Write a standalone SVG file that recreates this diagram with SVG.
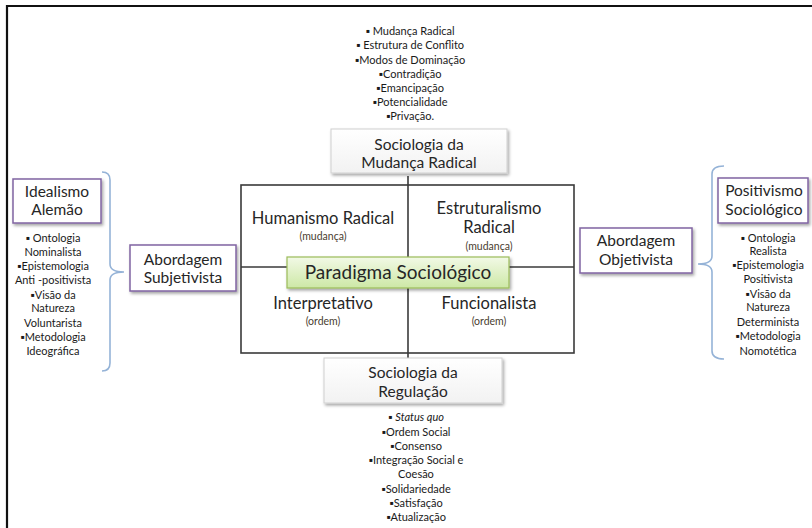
<svg xmlns="http://www.w3.org/2000/svg" width="812" height="528" viewBox="0 0 812 528">
  <style>
    text { font-family: Lato, "Liberation Sans", "DejaVu Sans", sans-serif; fill: #262626; text-anchor: middle; }
    .list { font-size: 11px; fill: #1a1a1a; }
    .head { font-size: 15.5px; }
    .quad { font-size: 16.5px; }
    .sub { font-size: 10.5px; fill: #4a4030; }
    .title { font-size: 19px; }
    .grid { stroke: #3a3a3a; stroke-width: 1.6; fill: none; }
    .brace { stroke: #95b3d7; stroke-width: 1.6; fill: none; }
    .purple { fill: #ffffff; stroke: #8064a2; stroke-width: 1.5; }
    .plain { fill: url(#whiteGrad); stroke: #d0d0d0; stroke-width: 1; }
  </style>
  <defs>
    <filter id="shadow" x="-10%" y="-10%" width="125%" height="140%">
      <feDropShadow dx="1.5" dy="2" stdDeviation="1.5" flood-color="#000" flood-opacity="0.35"/>
    </filter>
    <linearGradient id="whiteGrad" x1="0" y1="0" x2="0" y2="1">
      <stop offset="0" stop-color="#ffffff"/>
      <stop offset="1" stop-color="#f2f2f2"/>
    </linearGradient>
    <linearGradient id="greenGrad" x1="0" y1="0" x2="0" y2="1">
      <stop offset="0" stop-color="#f2f9e6"/>
      <stop offset="1" stop-color="#cde8a6"/>
    </linearGradient>
  </defs>

  <rect width="812" height="528" fill="#ffffff"/>

  <!-- outer frame -->
  <path d="M7,528 L7,6 L812,6" fill="none" stroke="#111" stroke-width="2.2"/>

  <!-- connectors: quadrant grid and braces -->
  <g id="connectors">
    <rect class="grid" x="241" y="185" width="333" height="168"/>
    <line class="grid" x1="408" y1="176" x2="408" y2="360"/>
    <line class="grid" x1="241" y1="267" x2="574" y2="267"/>
    <path class="brace" d="M102,172 Q110,172 110,180 L110,264 Q110,272 124,272 Q110,272 110,280 L110,363 Q110,371 102,371"/>
    <path class="brace" d="M724,166 Q712,166 712,174 L712,256 Q712,264 698,264 Q712,264 712,272 L712,351 Q712,359 724,359"/>
  </g>

  <!-- top list -->
  <g id="list-mudanca">
    <text class="list" x="410" y="35">▪ Mudança Radical</text>
    <text class="list" x="410" y="49">▪ Estrutura de Conflito</text>
    <text class="list" x="410" y="63.5">▪Modos de Dominação</text>
    <text class="list" x="410" y="77.5">▪Contradição</text>
    <text class="list" x="410" y="92">▪Emancipação</text>
    <text class="list" x="410" y="106">▪Potencialidade</text>
    <text class="list" x="410" y="120">▪Privação.</text>
  </g>

  <g id="sociologia-mudanca">
    <rect class="plain" x="331" y="129" width="176" height="44" filter="url(#shadow)"/>
    <text class="head" x="419" y="149.5">Sociologia da</text>
    <text class="head" x="419" y="168">Mudança Radical</text>
  </g>

  <g id="humanismo">
    <text class="quad" x="323" y="224">Humanismo Radical</text>
    <text class="sub" x="323" y="240">(mudança)</text>
  </g>
  <g id="estruturalismo">
    <text class="quad" x="489" y="214">Estruturalismo</text>
    <text class="quad" x="489" y="233">Radical</text>
    <text class="sub" x="489" y="250">(mudança)</text>
  </g>
  <g id="interpretativo">
    <text class="quad" x="323" y="309">Interpretativo</text>
    <text class="sub" x="323" y="325">(ordem)</text>
  </g>
  <g id="funcionalista">
    <text class="quad" x="489" y="309">Funcionalista</text>
    <text class="sub" x="489" y="325">(ordem)</text>
  </g>

  <g id="paradigma">
    <rect x="287" y="257" width="222" height="31" fill="url(#greenGrad)" stroke="#9bbb59" stroke-width="1.2" filter="url(#shadow)"/>
    <text class="title" x="398" y="279">Paradigma Sociológico</text>
  </g>

  <g id="sociologia-regulacao">
    <rect class="plain" x="324" y="358" width="178" height="45" filter="url(#shadow)"/>
    <text class="head" x="413" y="378">Sociologia da</text>
    <text class="head" x="413" y="396.5">Regulação</text>
  </g>

  <g id="list-regulacao">
    <text class="list" x="416" y="421">▪ <tspan font-style="italic">Status quo</tspan></text>
    <text class="list" x="416" y="435.5">▪Ordem Social</text>
    <text class="list" x="416" y="449.5">▪Consenso</text>
    <text class="list" x="416" y="464">▪Integração Social e</text>
    <text class="list" x="416" y="478">Coesão</text>
    <text class="list" x="416" y="492.5">▪Solidariedade</text>
    <text class="list" x="416" y="506.5">▪Satisfação</text>
    <text class="list" x="416" y="521">▪Atualização</text>
  </g>

  <g id="idealismo">
    <rect class="purple" x="13" y="179" width="88" height="44" filter="url(#shadow)"/>
    <text class="head" x="57" y="196.5">Idealismo</text>
    <text class="head" x="57" y="215">Alemão</text>
  </g>
  <g id="list-subjetivista">
    <text class="list" x="53" y="242">▪ Ontologia</text>
    <text class="list" x="53" y="256">Nominalista</text>
    <text class="list" x="53" y="270">▪Epistemologia</text>
    <text class="list" x="53" y="284">Anti -positivista</text>
    <text class="list" x="53" y="298.5">▪Visão da</text>
    <text class="list" x="53" y="312">Natureza</text>
    <text class="list" x="53" y="326.5">Voluntarista</text>
    <text class="list" x="53" y="340.5">▪Metodologia</text>
    <text class="list" x="53" y="355">Ideográfica</text>
  </g>

  <g id="abordagem-subjetivista">
    <rect class="purple" x="130" y="245" width="106" height="46" filter="url(#shadow)"/>
    <text class="head" x="183" y="264.5">Abordagem</text>
    <text class="head" x="183" y="283">Subjetivista</text>
  </g>

  <g id="abordagem-objetivista">
    <rect class="purple" x="580" y="228" width="112" height="45" filter="url(#shadow)"/>
    <text class="head" x="636" y="246">Abordagem</text>
    <text class="head" x="636" y="264.5">Objetivista</text>
  </g>

  <g id="positivismo">
    <rect class="purple" x="718" y="178" width="90" height="45" filter="url(#shadow)"/>
    <text class="head" x="764" y="196">Positivismo</text>
    <text class="head" x="764" y="214.5">Sociológico</text>
  </g>
  <g id="list-objetivista">
    <text class="list" x="768" y="242">▪ Ontologia</text>
    <text class="list" x="768" y="255">Realista</text>
    <text class="list" x="768" y="269">▪Epistemologia</text>
    <text class="list" x="768" y="283">Positivista</text>
    <text class="list" x="768" y="298">▪Visão da</text>
    <text class="list" x="768" y="311">Natureza</text>
    <text class="list" x="768" y="326">Determinista</text>
    <text class="list" x="768" y="340">▪Metodologia</text>
    <text class="list" x="768" y="355">Nomotética</text>
  </g>
</svg>
